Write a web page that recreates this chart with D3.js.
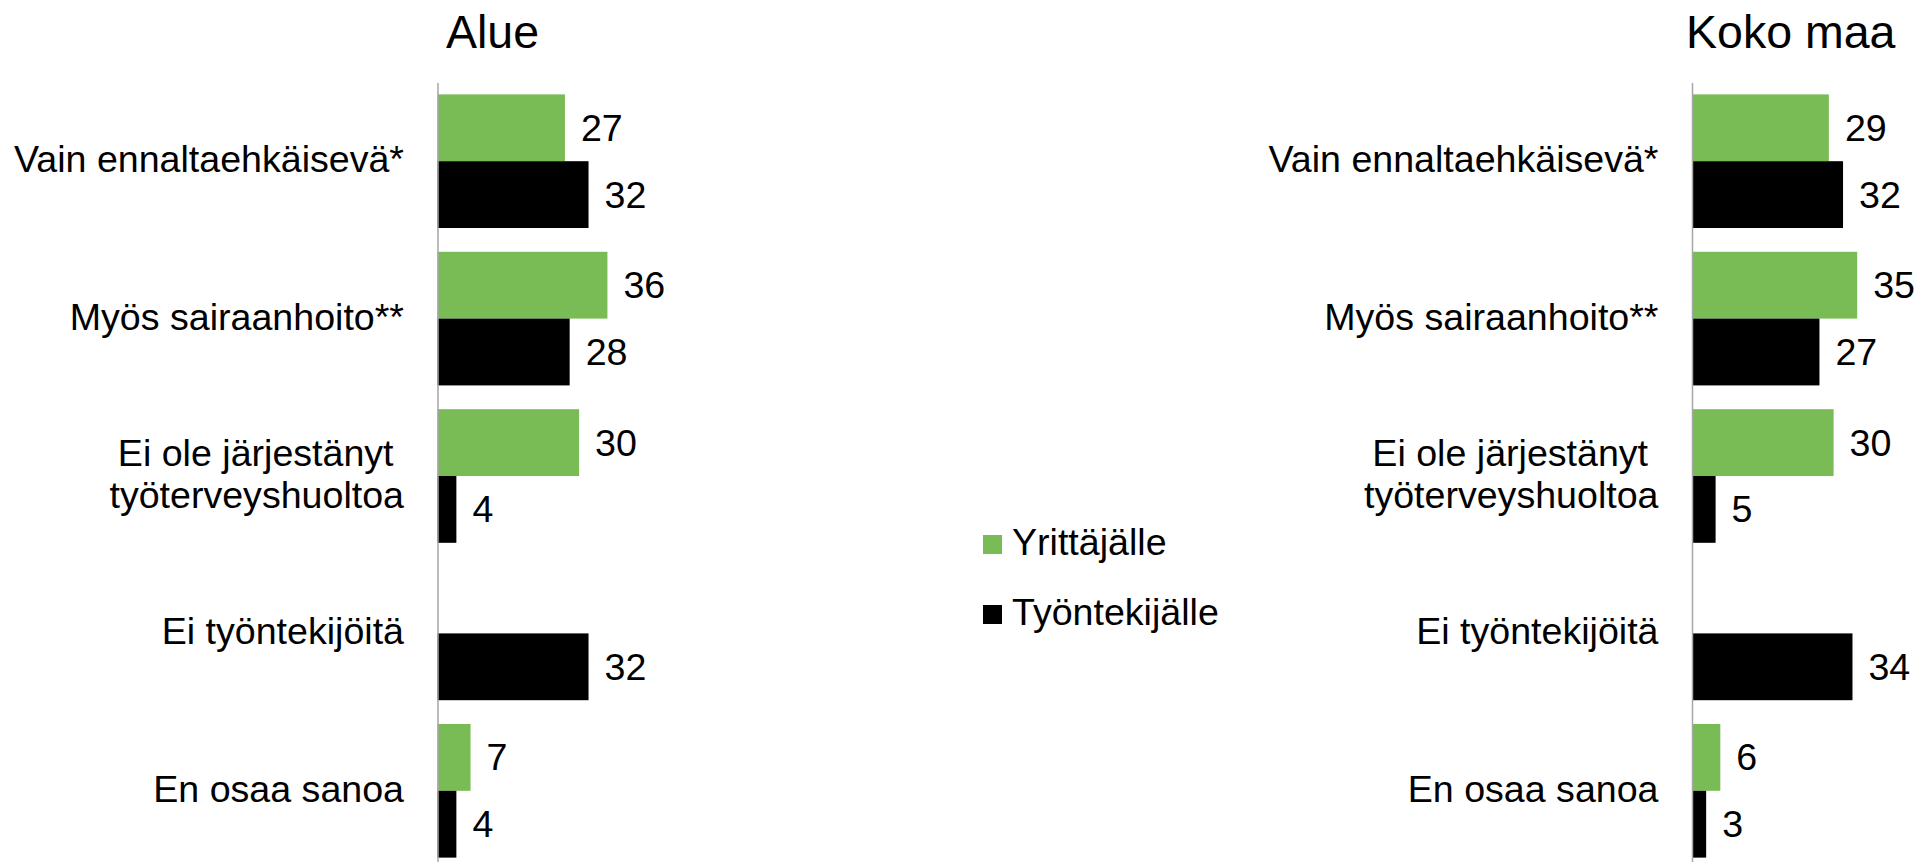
<!DOCTYPE html>
<html>
<head>
<meta charset="utf-8">
<script src="https://cdn.jsdelivr.net/npm/d3@7"></script>
<style>
    body { margin: 0; background: #fff; }
    svg text { font-family: "Liberation Sans", Arial, sans-serif; fill: #000; white-space: pre; }
    .axis path { stroke: #a6a6a6; stroke-width: 1.5; }
</style>
</head>
<body>
<div id="chart"></div>
<script>
// categories (multi-line labels split into rows)
const categories = [
    ["Vain ennaltaehkäisevä*"],
    ["Myös sairaanhoito**"],
    ["Ei ole järjestänyt ", "työterveyshuoltoa"],
    ["Ei työntekijöitä"],
    ["En osaa sanoa"]
];
const seriesNames = ["Yrittäjälle", "Työntekijälle"];
const seriesColors = ["#79bc55", "#000000"];

// values, null = no bar
const alueYrittajalle = [27, 36, 30, null, 7];
const alueTyontekijalle = [32, 28, 4, 32, 4];
const kokoMaaYrittajalle = [29, 35, 30, null, 6];
const kokoMaaTyontekijalle = [32, 27, 5, 34, 3];

class BarPanel {
    constructor(_config, _data) {
        this.config = {
            svg: _config.svg,
            title: _config.title,
            titleX: _config.titleX,
            axisX: _config.axisX,
            top: 82.5,
            bottom: 869.5,
            pxPer100: 472,
            labelGap: 33.5,
            valueGap: 16,
            fontSize: 37.6,
            lineHeight: 42
        };
        this.data = _data;
        this.initVis();
    }

    initVis() {
        let vis = this;
        vis.g = vis.config.svg.append('g');

        vis.y = d3.scaleBand()
            .domain(d3.range(categories.length))
            .range([vis.config.top, vis.config.bottom])
            .paddingInner(0.151)
            .paddingOuter(0.0755);

        vis.ySub = d3.scaleBand()
            .domain(d3.range(seriesNames.length))
            .range([0, vis.y.bandwidth()]);

        vis.x = d3.scaleLinear()
            .domain([0, 100])
            .range([vis.config.axisX, vis.config.axisX + vis.config.pxPer100]);

        vis.renderVis();
    }

    renderVis() {
        let vis = this;
        const cells = [];
        vis.data.forEach((values, s) => {
            values.forEach((v, i) => {
                if (v !== null) cells.push({ i: i, s: s, value: v });
            });
        });

        vis.g.selectAll('rect.bar')
            .data(cells)
            .join('rect')
            .attr('class', 'bar')
            .attr('x', vis.x(0))
            .attr('y', d => vis.y(d.i) + vis.ySub(d.s))
            .attr('width', d => vis.x(d.value) - vis.x(0))
            .attr('height', vis.ySub.bandwidth())
            .attr('fill', d => seriesColors[d.s]);

        vis.g.selectAll('text.value')
            .data(cells)
            .join('text')
            .attr('class', 'value')
            .attr('x', d => vis.x(d.value) + vis.config.valueGap)
            .attr('y', d => vis.y(d.i) + vis.ySub(d.s) + vis.ySub.bandwidth() / 2 + 13)
            .attr('font-size', vis.config.fontSize)
            .text(d => d.value);

        // axis line only
        vis.g.append('g')
            .attr('class', 'axis')
            .attr('transform', `translate(${vis.config.axisX},0)`)
            .call(d3.axisLeft(vis.y).tickSize(0).tickSizeOuter(0).tickFormat(''))
            .call(g => g.selectAll('.tick').remove());

        // category labels
        const labels = vis.g.selectAll('text.cat')
            .data(categories)
            .join('text')
            .attr('class', 'cat')
            .attr('text-anchor', 'end')
            .attr('font-size', vis.config.fontSize);

        labels.each(function (lines, i) {
            const cy = vis.y(i) + vis.y.bandwidth() / 2 + 11;
            d3.select(this).selectAll('tspan')
                .data(lines)
                .join('tspan')
                .attr('x', vis.config.axisX - vis.config.labelGap)
                .attr('y', (d, k) => cy + (k - (lines.length - 1) / 2) * vis.config.lineHeight)
                .text(d => d);
        });

        vis.g.append('text')
            .attr('x', vis.config.titleX)
            .attr('y', 48)
            .attr('font-size', 46.5)
            .text(vis.config.title);
    }
}

const svg = d3.select('#chart').append('svg')
    .attr('width', 1918)
    .attr('height', 862);

new BarPanel({ svg: svg, title: 'Alue', titleX: 446, axisX: 437.5 },
    [alueYrittajalle, alueTyontekijalle]);
new BarPanel({ svg: svg, title: 'Koko maa', titleX: 1686, axisX: 1692 },
    [kokoMaaYrittajalle, kokoMaaTyontekijalle]);

// legend
const legend = svg.append('g').attr('transform', 'translate(983,535)');
const legendItems = legend.selectAll('g')
    .data(seriesNames)
    .join('g')
    .attr('transform', (d, i) => `translate(0,${i * 70})`);
legendItems.append('rect')
    .attr('width', 19)
    .attr('height', 19)
    .attr('fill', (d, i) => seriesColors[i]);
legendItems.append('text')
    .attr('x', 29)
    .attr('y', 20)
    .attr('font-size', 37.6)
    .text(d => d);
</script>
</body>
</html>
